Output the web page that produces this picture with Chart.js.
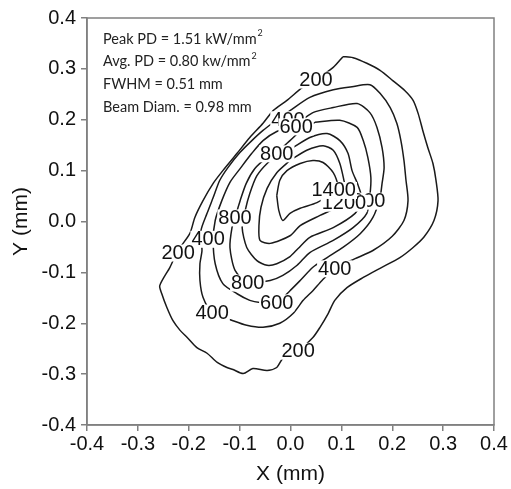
<!DOCTYPE html>
<html>
<head>
<meta charset="utf-8">
<script src="https://cdn.jsdelivr.net/npm/chart.js@4.4.0/dist/chart.umd.min.js"></script>
<style>
  html, body { margin: 0; padding: 0; background: #fff; }
</style>
</head>
<body>
<canvas id="contour" width="511" height="489"></canvas>
<script>
// contour levels (power density, W/mm2)
const levels = [200, 400, 600, 800, 1000, 1200, 1400];

// contour lines, X and Y in mm
const c200x = [0.103, 0.123, 0.150, 0.176, 0.201, 0.225, 0.241, 0.251, 0.260, 0.270, 0.280, 0.286, 0.290, 0.282, 0.262, 0.241, 0.215, 0.176, 0.143, 0.111, 0.087, 0.074, 0.058, 0.044, 0.015, -0.015, -0.027, -0.046, -0.074, -0.093, -0.113, -0.125, -0.144, -0.164, -0.184, -0.203, -0.217, -0.231, -0.243, -0.253, -0.257, -0.237, -0.221, -0.198, -0.188, -0.172, -0.152, -0.133, -0.105, -0.080, -0.054, -0.034, -0.007, 0.023, 0.050, 0.084, 0.103];
const c200y = [0.324, 0.322, 0.311, 0.297, 0.277, 0.257, 0.238, 0.212, 0.179, 0.145, 0.114, 0.081, 0.041, 0.002, -0.031, -0.051, -0.071, -0.092, -0.110, -0.130, -0.155, -0.181, -0.208, -0.228, -0.254, -0.269, -0.287, -0.293, -0.289, -0.299, -0.291, -0.287, -0.277, -0.259, -0.248, -0.228, -0.214, -0.195, -0.169, -0.142, -0.126, -0.090, -0.057, -0.024, 0.008, 0.041, 0.075, 0.100, 0.134, 0.165, 0.193, 0.218, 0.238, 0.263, 0.279, 0.303, 0.324];

const c400x = [-0.027, -0.001, 0.038, 0.084, 0.121, 0.156, 0.176, 0.196, 0.209, 0.217, 0.223, 0.227, 0.231, 0.223, 0.200, 0.162, 0.127, 0.087, 0.062, 0.044, 0.025, 0.005, -0.021, -0.054, -0.086, -0.113, -0.154, -0.172, -0.178, -0.178, -0.174, -0.176, -0.164, -0.152, -0.139, -0.123, -0.099, -0.076, -0.054, -0.027];
const c400y = [0.200, 0.218, 0.244, 0.259, 0.265, 0.269, 0.252, 0.224, 0.193, 0.159, 0.120, 0.081, 0.041, 0.002, -0.029, -0.057, -0.073, -0.092, -0.116, -0.136, -0.155, -0.181, -0.200, -0.208, -0.204, -0.195, -0.179, -0.149, -0.116, -0.083, -0.057, -0.018, 0.016, 0.047, 0.081, 0.106, 0.136, 0.159, 0.179, 0.200];

const c600x = [0.009, 0.044, 0.084, 0.131, 0.156, 0.170, 0.180, 0.184, 0.180, 0.176, 0.162, 0.137, 0.103, 0.072, 0.044, 0.019, -0.001, -0.027, -0.060, -0.080, -0.105, -0.133, -0.148, -0.152, -0.148, -0.135, -0.119, -0.099, -0.076, -0.054, -0.027, 0.009];
const c600y = [0.189, 0.214, 0.224, 0.232, 0.214, 0.185, 0.145, 0.106, 0.075, 0.047, 0.008, -0.024, -0.051, -0.071, -0.090, -0.116, -0.136, -0.159, -0.159, -0.155, -0.142, -0.122, -0.083, -0.037, 0.002, 0.041, 0.077, 0.104, 0.134, 0.159, 0.177, 0.189];

const c800x = [0.048, 0.097, 0.131, 0.143, 0.152, 0.158, 0.156, 0.150, 0.123, 0.084, 0.038, 0.013, -0.015, -0.040, -0.084, -0.109, -0.119, -0.115, -0.109, -0.099, -0.087, -0.070, -0.048, -0.027, -0.001, 0.023, 0.048];
const c800y = [0.195, 0.199, 0.185, 0.159, 0.126, 0.086, 0.051, 0.016, -0.012, -0.037, -0.061, -0.086, -0.106, -0.116, -0.120, -0.096, -0.051, -0.012, 0.008, 0.041, 0.075, 0.104, 0.124, 0.136, 0.159, 0.181, 0.195];

const c1000x = [0.005, 0.038, 0.072, 0.097, 0.113, 0.121, 0.133, 0.141, 0.127, 0.084, 0.038, 0.015, -0.001, -0.027, -0.046, -0.066, -0.086, -0.095, -0.089, -0.080, -0.066, -0.044, -0.021, 0.005];
const c1000y = [0.145, 0.165, 0.173, 0.159, 0.134, 0.100, 0.071, 0.041, 0.016, -0.012, -0.031, -0.053, -0.069, -0.083, -0.086, -0.077, -0.051, -0.012, 0.022, 0.055, 0.090, 0.116, 0.134, 0.145];

const c1200x = [-0.001, 0.032, 0.064, 0.084, 0.097, 0.105, 0.111, 0.091, 0.058, 0.019, -0.001, -0.040, -0.060, -0.062, -0.058, -0.046, -0.027, -0.001];
const c1200y = [0.120, 0.140, 0.149, 0.140, 0.114, 0.081, 0.051, 0.028, 0.012, -0.008, -0.028, -0.043, -0.037, -0.008, 0.028, 0.065, 0.096, 0.120];

const c1400x = [-0.027, -0.021, -0.007, 0.019, 0.044, 0.064, 0.084, 0.093, 0.084, 0.052, 0.019, -0.001, -0.015, -0.023, -0.027];
const c1400y = [0.051, 0.081, 0.100, 0.114, 0.120, 0.116, 0.096, 0.071, 0.057, 0.037, 0.026, 0.016, 0.002, 0.022, 0.051];

const contourX = [c200x, c400x, c600x, c800x, c1000x, c1200x, c1400x];
const contourY = [c200y, c400y, c600y, c800y, c1000y, c1200y, c1400y];

// in-line contour labels (drawn in this order, later ones cover earlier ones)
const labelText = ['400', '200', '400', '200', '400', '400', '600', '600', '800', '800', '800', '200', '1000', '1200', '1400'];
const labelX = [-0.162, -0.221, -0.005, 0.050, 0.087, -0.154, 0.011, -0.027, -0.027, -0.109, -0.084, 0.015, 0.143, 0.105, 0.085];
const labelY = [-0.034, -0.061, 0.201, 0.279, -0.092, -0.179, 0.187, -0.159, 0.134, 0.008, -0.120, -0.254, 0.041, 0.037, 0.062];

// tick labels
const xTicks = [-0.4, -0.3, -0.2, -0.1, 0.0, 0.1, 0.2, 0.3, 0.4];
const yTicks = [-0.4, -0.3, -0.2, -0.1, 0.0, 0.1, 0.2, 0.3, 0.4];

// beam stats in the corner
const statsText = ['Peak PD = 1.51 kW/mm', 'Avg. PD = 0.80 kw/mm', 'FWHM = 0.51 mm', 'Beam Diam. = 0.98 mm'];
const statsSup = ['2', '2', '', ''];

const datasets = levels.map(function(lv, i) {
  return {
    label: lv + '',
    data: contourX[i].map((x, j) => ({ x: x, y: contourY[i][j] })),
    showLine: true,
    borderColor: '#1a1a1a',
    borderWidth: 1.5,
    pointRadius: 0,
    tension: 0.25,
    fill: false
  };
});

const labelPlugin = {
  id: 'contourLabels',
  afterDatasetsDraw(chart) {
    const ctx = chart.ctx;
    const xs = chart.scales.x, ys = chart.scales.y;
    ctx.save();
    ctx.font = '20px "Liberation Sans", Arial, sans-serif';
    ctx.textAlign = 'center';
    ctx.textBaseline = 'middle';
    for (let i = 0; i < labelText.length; i++) {
      const px = xs.getPixelForValue(labelX[i]);
      const py = ys.getPixelForValue(labelY[i]);
      const w = ctx.measureText(labelText[i]).width;
      ctx.fillStyle = '#fff';
      ctx.fillRect(px - w / 2 - 1, py - 8, w + 2, 17);
      ctx.fillStyle = '#111';
      ctx.fillText(labelText[i], px, py + 1);
    }

    // stats block
    const a = chart.chartArea;
    ctx.textAlign = 'left';
    ctx.textBaseline = 'middle';
    for (let i = 0; i < statsText.length; i++) {
      const tx = a.left + 16;
      const ty = a.top + 21 + i * 22.7;
      ctx.font = '14.5px Lato, "Open Sans", sans-serif';
      ctx.fillStyle = '#222';
      ctx.fillText(statsText[i], tx, ty);
      if (statsSup[i]) {
        const w = ctx.measureText(statsText[i]).width;
        ctx.font = '9px Lato, "Open Sans", sans-serif';
        ctx.fillText(statsSup[i], tx + w + 1, ty - 6);
      }
    }

    // frame round the plot
    ctx.strokeStyle = '#808080';
    ctx.lineWidth = 1.5;
    ctx.strokeRect(a.left, a.top, a.right - a.left, a.bottom - a.top);
    ctx.restore();
  }
};

const config = {
  type: 'scatter',
  data: { datasets: datasets },
  options: {
    responsive: false,
    animation: false,
    layout: { padding: { left: 0, right: 17, top: 18, bottom: 0 } },
    plugins: {
      legend: { display: false },
      tooltip: { enabled: false }
    },
    scales: {
      x: {
        type: 'linear',
        min: -0.4,
        max: 0.4,
        afterFit: function(s) { s.height = 64; },
        afterBuildTicks: function(s) { s.ticks = xTicks.map(v => ({ value: v })); },
        ticks: {
          color: '#111',
          padding: 1,
          maxRotation: 0,
          font: { size: 20, family: '"Liberation Sans", Arial, sans-serif' },
          callback: v => Number(v).toFixed(1)
        },
        grid: { drawOnChartArea: false, tickLength: 6, color: '#808080', lineWidth: 1.5 },
        border: { color: '#808080', width: 1.5 },
        title: {
          display: true,
          text: 'X (mm)',
          color: '#111',
          padding: { top: 2, bottom: 2 },
          font: { size: 21, family: '"Liberation Sans", Arial, sans-serif' }
        }
      },
      y: {
        type: 'linear',
        min: -0.4,
        max: 0.4,
        afterFit: function(s) { s.width = 87; },
        afterBuildTicks: function(s) { s.ticks = yTicks.map(v => ({ value: v })); },
        ticks: {
          color: '#111',
          padding: 5,
          font: { size: 20, family: '"Liberation Sans", Arial, sans-serif' },
          callback: v => Number(v).toFixed(1)
        },
        grid: { drawOnChartArea: false, tickLength: 6, color: '#808080', lineWidth: 1.5 },
        border: { color: '#808080', width: 1.5 },
        title: {
          display: true,
          text: 'Y (mm)',
          color: '#111',
          padding: { top: 9, bottom: 4 },
          font: { size: 21, family: '"Liberation Sans", Arial, sans-serif' }
        }
      }
    }
  },
  plugins: [labelPlugin]
};

const ctx = document.getElementById('contour').getContext('2d');
const chart = new Chart(ctx, config);
</script>
</body>
</html>
